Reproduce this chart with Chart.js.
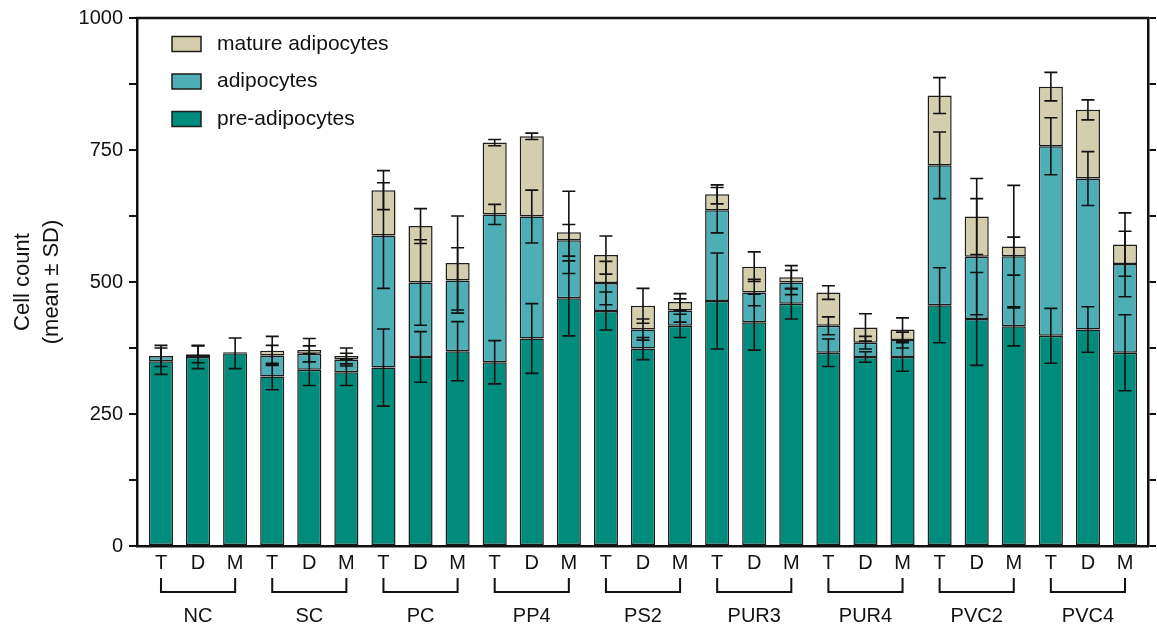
<!DOCTYPE html>
<html>
<head>
<meta charset="utf-8">
<script src="https://cdn.jsdelivr.net/npm/chart.js@4/dist/chart.umd.min.js"></script>
<style>
  html, body { margin: 0; padding: 0; background: #fff; }
  canvas { display: block; }
</style>
</head>
<body>
<canvas id="chart" width="1157" height="630"></canvas>
<script>
// Particle groups and the three conditions measured within each group
const groups = ['NC', 'SC', 'PC', 'PP4', 'PS2', 'PUR3', 'PUR4', 'PVC2', 'PVC4'];
const conditions = ['T', 'D', 'M'];

// Mean cell counts per stacked segment (order: NC T, NC D, NC M, SC T, ...)
const preAdipocytes = [350, 358, 365, 321, 334, 329, 338, 358, 369, 348, 393, 469, 445, 374, 417, 464, 424, 459, 366, 358, 358, 456, 430, 416, 398, 410, 366];
const adipocytes    = [10, 5, 2, 40, 30, 24, 250, 141, 134, 280, 231, 110, 53, 36, 29, 172, 56, 40, 51, 27, 32, 265, 118, 133, 359, 286, 168];
const matureAdipocytes = [0, 0, 0, 9, 7, 7, 86, 107, 33, 136, 152, 15, 53, 45, 16, 30, 49, 10, 63, 29, 20, 132, 76, 18, 113, 130, 37];

// Standard deviations for each segment
const preAdipocytesSD = [25, 22, 29, 25, 30, 25, 73, 48, 56, 41, 66, 71, 36, 21, 22, 91, 53, 29, 26, 10, 27, 71, 88, 37, 52, 43, 72];
const adipocytesSD    = [20, 16, 0, 19, 15, 12, 100, 81, 62, 19, 50, 30, 41, 20, 22, 43, 25, 23, 17, 12, 15, 63, 110, 36, 54, 51, 62];
const matureAdipocytesSD = [0, 0, 0, 27, 22, 15, 37, 33, 89, 6, 6, 78, 36, 33, 16, 18, 28, 22, 13, 26, 22, 34, 72, 116, 27, 19, 60];

// Y axis ticks
const yTicks = [0, 250, 500, 750, 1000];
const yMinorStep = 125;

const FONT = '"Liberation Sans", Arial, Helvetica, sans-serif';
const INK = '#111111';

const toPoints = arr => arr.map((v, i) => ({ x: i, y: v }));
const sdSeries = [preAdipocytesSD, adipocytesSD, matureAdipocytesSD];

const barStyle = {
  borderColor: '#1c1c1c',
  borderWidth: 1.5,
  borderSkipped: false,
  barPercentage: 0.65,
  categoryPercentage: 1.0
};

const datasets = [
  Object.assign({ label: 'pre-adipocytes', data: toPoints(preAdipocytes), backgroundColor: '#008C7D' }, barStyle),
  Object.assign({ label: 'adipocytes', data: toPoints(adipocytes), backgroundColor: '#4EAEB6' }, barStyle),
  Object.assign({ label: 'mature adipocytes', data: toPoints(matureAdipocytes), backgroundColor: '#D5CEAE' }, barStyle)
];

// Error bars at the top of every stacked segment (± SD)
const errorBars = {
  id: 'errorBars',
  afterDatasetsDraw(chart) {
    const { ctx } = chart;
    const yScale = chart.scales.y;
    const cum = new Array(preAdipocytes.length).fill(0);
    ctx.save();
    ctx.strokeStyle = INK;
    ctx.lineWidth = 1.6;
    chart.data.datasets.forEach((ds, d) => {
      const meta = chart.getDatasetMeta(d);
      ds.data.forEach((p, i) => {
        cum[i] += p.y;
        const s = sdSeries[d][i];
        if (!s) return;
        const x = meta.data[i].x;
        const yt = yScale.getPixelForValue(cum[i] + s);
        const yb = yScale.getPixelForValue(cum[i] - s);
        const half = 6.5;
        ctx.beginPath();
        ctx.moveTo(x, yt); ctx.lineTo(x, yb);
        ctx.moveTo(x - half, yt); ctx.lineTo(x + half, yt);
        ctx.moveTo(x - half, yb); ctx.lineTo(x + half, yb);
        ctx.stroke();
      });
    });
    ctx.restore();
  }
};

// Frame top line, group brackets, group names, axis title and legend
const decorations = {
  id: 'decorations',
  afterDraw(chart) {
    const { ctx, chartArea } = chart;
    const xs = chart.scales.x;
    ctx.save();

    // top edge of the frame
    ctx.strokeStyle = INK;
    ctx.lineWidth = 2.5;
    ctx.beginPath();
    ctx.moveTo(chartArea.left - 1.25, chartArea.top);
    ctx.lineTo(chartArea.right + 1.25, chartArea.top);
    ctx.stroke();

    // brackets under each T-D-M triple
    ctx.lineWidth = 2;
    ctx.fillStyle = INK;
    ctx.font = '20px ' + FONT;
    ctx.textAlign = 'center';
    ctx.textBaseline = 'middle';
    const b0 = chartArea.bottom + 32, b1 = chartArea.bottom + 46;
    groups.forEach((g, k) => {
      const x0 = xs.getPixelForValue(3 * k);
      const x1 = xs.getPixelForValue(3 * k + 2);
      ctx.beginPath();
      ctx.moveTo(x0, b0); ctx.lineTo(x0, b1); ctx.lineTo(x1, b1); ctx.lineTo(x1, b0);
      ctx.stroke();
      ctx.fillText(g, (x0 + x1) / 2, chartArea.bottom + 70);
    });

    // y axis title, two lines
    const cy = (chartArea.top + chartArea.bottom) / 2;
    ctx.font = '22px ' + FONT;
    ctx.translate(23, cy);
    ctx.rotate(-Math.PI / 2);
    ctx.fillText('Cell count', 0, 0);
    ctx.fillText('(mean ± SD)', 0, 29);
    ctx.setTransform(1, 0, 0, 1, 0, 0);

    // legend, top-most stack segment listed first
    ctx.font = '21px ' + FONT;
    ctx.textAlign = 'left';
    const items = chart.data.datasets.slice().reverse();
    items.forEach((ds, k) => {
      const yc = 44 + k * 37.5;
      ctx.fillStyle = ds.backgroundColor;
      ctx.fillRect(172, yc - 7.5, 29, 15);
      ctx.strokeStyle = '#1c1c1c';
      ctx.lineWidth = 1.5;
      ctx.strokeRect(172, yc - 7.5, 29, 15);
      ctx.fillStyle = INK;
      ctx.fillText(ds.label, 217, yc);
    });
    ctx.restore();
  }
};

new Chart(document.getElementById('chart'), {
  type: 'bar',
  data: { datasets },
  options: {
    responsive: false,
    devicePixelRatio: 1,
    animation: false,
    layout: { padding: { top: 16, left: 0, right: 0, bottom: 0 } },
    plugins: { legend: { display: false }, tooltip: { enabled: false } },
    scales: {
      x: {
        type: 'linear',
        stacked: true,
        offset: false,
        min: -0.647,
        max: 26.62,
        afterFit(scale) { scale.height = 84; },
        grid: { display: false, offset: false },
        border: { display: true, color: INK, width: 2.5 },
        ticks: {
          stepSize: 1,
          autoSkip: false,
          includeBounds: false,
          maxRotation: 0,
          padding: -3,
          color: INK,
          font: { family: FONT, size: 20 },
          callback: v => (Number.isInteger(v) && v >= 0) ? conditions[v % 3] : ''
        }
      },
      y: {
        type: 'linear',
        stacked: true,
        position: 'left',
        min: 0,
        max: 1000,
        afterFit(scale) { scale.width = 137; },
        grid: { display: true, drawOnChartArea: false, drawTicks: true, tickLength: 8, color: INK, lineWidth: 2 },
        border: { display: true, color: INK, width: 2.5 },
        ticks: {
          stepSize: yMinorStep,
          padding: 6,
          color: INK,
          font: { family: FONT, size: 20 },
          callback: v => yTicks.includes(v) ? String(v) : ''
        }
      },
      y2: {
        type: 'linear',
        position: 'right',
        min: 0,
        max: 1000,
        afterFit(scale) { scale.width = 9; },
        grid: { display: true, drawOnChartArea: false, drawTicks: true, tickLength: 8, color: INK, lineWidth: 2 },
        border: { display: true, color: INK, width: 2.5 },
        ticks: { display: false, stepSize: yMinorStep }
      }
    }
  },
  plugins: [errorBars, decorations]
});
</script>
</body>
</html>
